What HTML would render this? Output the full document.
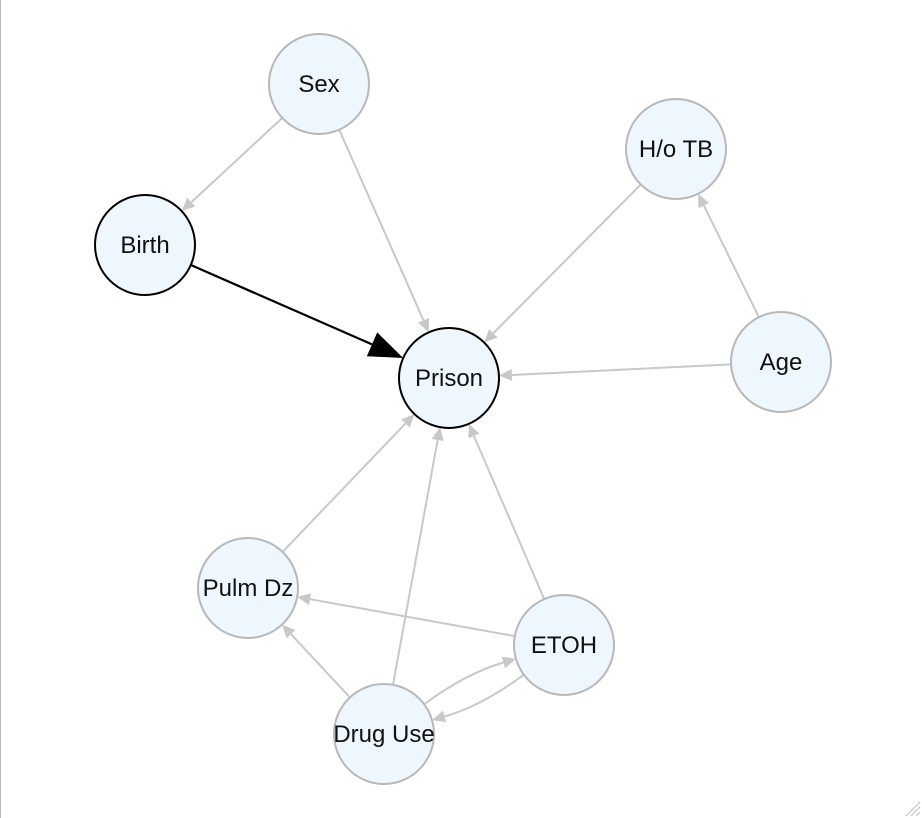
<!DOCTYPE html>
<html><head><meta charset="utf-8"><style>
html,body{margin:0;padding:0;background:#fff;}
svg{display:block;}
text{font-family:"Liberation Sans",Arial,sans-serif;font-size:24px;fill:#111;}
</style></head><body>
<svg id="g" width="922" height="818">
<line x1="0.5" y1="0" x2="0.5" y2="818" stroke="#bbb"/>
<g stroke="#bbb">
<line x1="906" y1="816" x2="920" y2="802"/><line x1="911" y1="816" x2="920" y2="807"/><line x1="916" y1="816" x2="920" y2="812"/>
</g>
</svg>
<script>
const nodeNames=["Sex","H/o TB","Birth","Prison","Age","Pulm Dz","ETOH","Drug Use"];
const nodeX=[319,676,145,449,781,248,564,384];
const nodeY=[84,149,245,378,362,588,645,734];
const highlighted=["Birth","Prison"];
const edgeFrom=["Sex","Sex","Birth","H/o TB","Age","Age","Pulm Dz","Drug Use","ETOH","ETOH","Drug Use","Drug Use","ETOH"];
const edgeTo=["Birth","Prison","Prison","Prison","H/o TB","Prison","Prison","Prison","Prison","Pulm Dz","Pulm Dz","ETOH","Drug Use"];
const edgeCurve=[0,0,0,0,0,0,0,0,0,0,0,-0.18,-0.18];
const R=50,NS="http://www.w3.org/2000/svg";
const svg=document.getElementById('g');
const idx=n=>nodeNames.indexOf(n);
const eg=document.createElementNS(NS,'g');svg.appendChild(eg);
edgeFrom.forEach((f,i)=>{
  const a=idx(f),b=idx(edgeTo[i]);
  const x1=nodeX[a],y1=nodeY[a],x2=nodeX[b],y2=nodeY[b];
  const dx=x2-x1,dy=y2-y1,L=Math.hypot(dx,dy),ux=dx/L,uy=dy/L;
  const bold=f==="Birth"&&edgeTo[i]==="Prison";
  const col=bold?"#000":"#c8c8c8",al=bold?34:13,aw=bold?13:6;
  const c=edgeCurve[i];
  const mx=(x1+x2)/2-uy*L*c/2, my=(y1+y2)/2+ux*L*c/2;
  let sx,sy,ex,ey,tx,ty;
  if(c){
    let d1x=mx-x1,d1y=my-y1,l1=Math.hypot(d1x,d1y);sx=x1+d1x/l1*R;sy=y1+d1y/l1*R;
    let d2x=x2-mx,d2y=y2-my,l2=Math.hypot(d2x,d2y);tx=d2x/l2;ty=d2y/l2;
    ex=x2-tx*R;ey=y2-ty*R;
  }else{sx=x1+ux*R;sy=y1+uy*R;ex=x2-ux*R;ey=y2-uy*R;tx=ux;ty=uy;}
  const bx=ex-tx*al,by=ey-ty*al;
  const p=document.createElementNS(NS,'path');
  p.setAttribute('d',c?`M${sx},${sy}Q${mx},${my} ${bx},${by}`:`M${sx},${sy}L${bx},${by}`);
  p.setAttribute('stroke',col);p.setAttribute('stroke-width',bold?2.2:2);p.setAttribute('fill','none');
  
  
  eg.appendChild(p);
  const h=document.createElementNS(NS,'polygon');
  h.setAttribute('points',`${ex},${ey} ${bx-ty*aw},${by+tx*aw} ${bx+ty*aw},${by-tx*aw}`);
  h.setAttribute('fill',col);
  
  
  eg.appendChild(h);
});
nodeNames.forEach((n,i)=>{
  const g=document.createElementNS(NS,'g');
  
  
  const c=document.createElementNS(NS,'circle');
  c.setAttribute('cx',nodeX[i]);c.setAttribute('cy',nodeY[i]);c.setAttribute('r',R);
  c.setAttribute('fill','#eef6fe');
  c.setAttribute('stroke',highlighted.includes(n)?'#000':'#b8b8b8');
  c.setAttribute('stroke-width',2);
  g.appendChild(c);
  const t=document.createElementNS(NS,'text');
  t.setAttribute('x',nodeX[i]);t.setAttribute('y',nodeY[i]+8);t.setAttribute('text-anchor','middle');
  t.textContent=n;
  
  
  g.appendChild(t);
  svg.appendChild(g);
});
</script>
</body></html>
